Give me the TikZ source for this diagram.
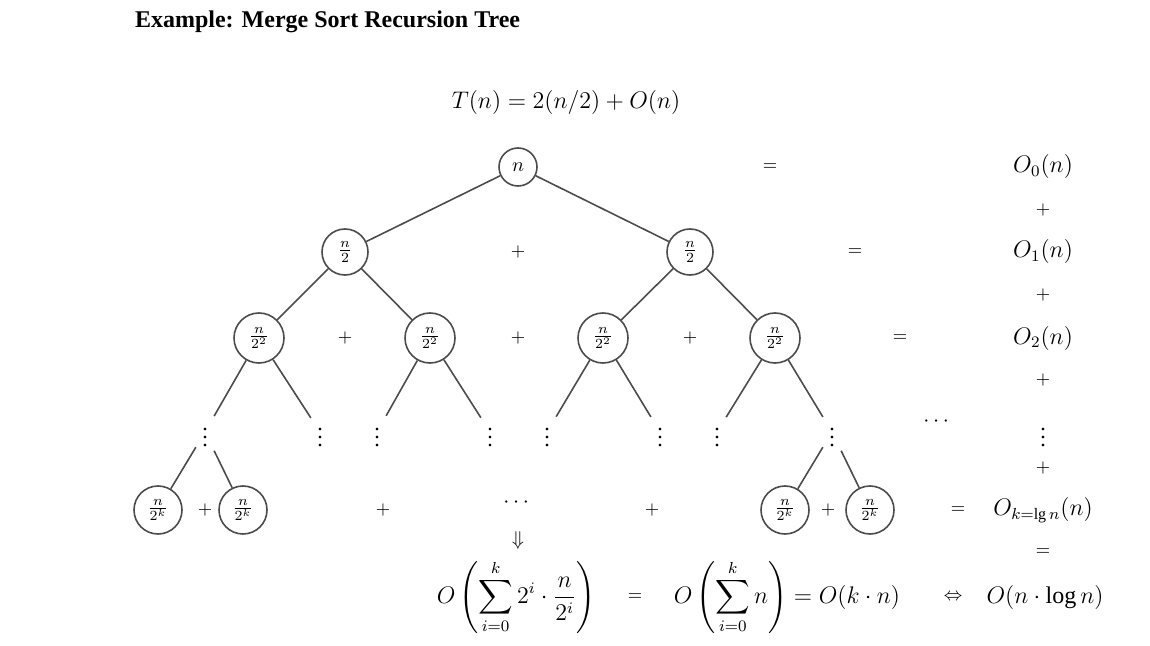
\documentclass[tikz,border=0pt]{standalone}
\usepackage{amsmath}
\usepackage{fontspec}
\setmainfont{Liberation Serif}
\begin{document}
\begin{tikzpicture}[x=0.5pt, y=-0.5pt,
    tnode/.style={circle, draw=black!70, line width=0.8pt, inner sep=0pt, font=\normalsize},
    edge/.style={draw=black!70, line width=0.8pt},
    op/.style={font=\small, inner sep=1pt},
    term/.style={font=\fontsize{12}{14}\selectfont},
    dots/.style={font=\fontsize{11}{13}\selectfont, inner sep=3pt}]
    \useasboundingbox (0,0) rectangle (1150,646);

    % Title and recurrence
    \node[anchor=west, font=\fontsize{12}{14}\selectfont\bfseries] (title) at (128,22) {Example: Merge Sort Recursion Tree};
    \node[term] (rec) at (566,103) {$T(n) = 2(n/2) + O(n)$};

    % Tree levels
    \node[tnode, minimum size=19pt] (root) at (518,167) {$n$};
    \node[tnode, minimum size=23pt] (l1a) at (345,252) {$\frac{n}{2}$};
    \node[tnode, minimum size=23pt] (l1b) at (690,252) {$\frac{n}{2}$};
    \foreach \x [count=\i] in {259,430,603,775}
        \node[tnode, minimum size=25pt] (l2\i) at (\x,338) {$\frac{n}{2^2}$};
    \foreach \x [count=\i] in {205,320,377,490,547,660,717,832}
        \node[dots] (d\i) at (\x,432) {$\vdots$};
    \foreach \x [count=\i] in {158,243,785,870}
        \node[tnode, minimum size=24pt] (leaf\i) at (\x,510) {$\frac{n}{2^k}$};

    % Edges
    \draw[edge] (root) -- (l1a);
    \draw[edge] (root) -- (l1b);
    \draw[edge] (l1a) -- (l21);
    \draw[edge] (l1a) -- (l22);
    \draw[edge] (l1b) -- (l23);
    \draw[edge] (l1b) -- (l24);
    \foreach \p/\a/\b in {1/1/2, 2/3/4, 3/5/6, 4/7/8} {
        \draw[edge] (l2\p) -- (d\a);
        \draw[edge] (l2\p) -- (d\b);
    }
    \draw[edge] (d1) -- (leaf1);
    \draw[edge] (d1) -- (leaf2);
    \draw[edge] (d8) -- (leaf3);
    \draw[edge] (d8) -- (leaf4);

    % Plus signs between siblings
    \foreach \x/\y [count=\i] in {518/252, 345/338, 518/338, 690/338, 205/510, 383/510, 652/510, 828/510}
        \node[op] (p\i) at (\x,\y) {$+$};
    \node[dots] (mid) at (518,503) {$\cdots$};
    \node[dots] (side) at (938,422) {$\cdots$};
    \node[font=\normalsize] (down) at (518,540) {$\Downarrow$};

    % Level sums
    \foreach \x/\y [count=\i] in {770/167, 855/252, 900/338, 958/510}
        \node[op] (eq\i) at (\x,\y) {$=$};
    \node[term] (s0) at (1043,167) {$O_0(n)$};
    \node[term] (s1) at (1043,252) {$O_1(n)$};
    \node[term] (s2) at (1043,338) {$O_2(n)$};
    \node[dots] (sd) at (1043,432) {$\vdots$};
    \node[term] (sk) at (1043,510) {$O_{k=\lg n}(n)$};
    \foreach \y [count=\i] in {210,295,380,468}
        \node[op] (sp\i) at (1043,\y) {$+$};
    \node[op] (eq5) at (1043,552) {$=$};

    % Closed form
    \node[term] (sumA) at (516,597) {$\displaystyle O\left(\sum_{i=0}^{k} 2^i \cdot \frac{n}{2^i}\right)$};
    \node[op] (eq6) at (635,597) {$=$};
    \node[term] (sumB) at (787,597) {$\displaystyle O\left(\sum_{i=0}^{k} n\right) = O(k \cdot n)$};
    \node[op] (iff) at (953,597) {$\Leftrightarrow$};
    \node[term] (res) at (1045,597) {$O(n \cdot \log n)$};
\end{tikzpicture}
\end{document}
